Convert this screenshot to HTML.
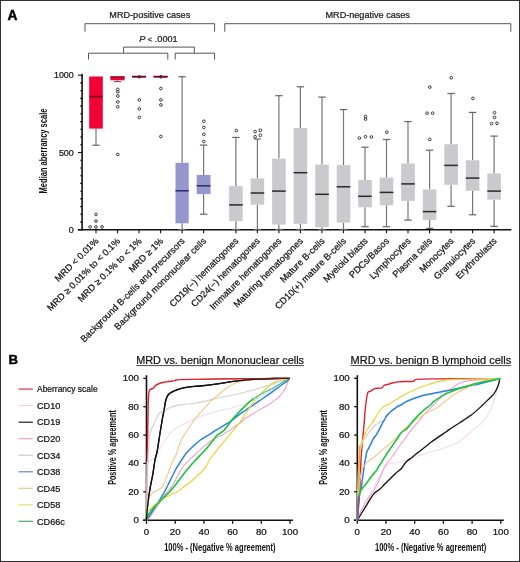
<!DOCTYPE html><html><head><meta charset="utf-8"><style>
html,body{margin:0;padding:0;background:#fff;}
svg{display:block;will-change:transform;} text{text-decoration-skip-ink:none;}
text{font-family:"Liberation Sans", sans-serif;stroke:#111;stroke-width:0.22px;}
</style></head><body>
<svg width="520" height="562" viewBox="0 0 520 562">
<rect x="0" y="0" width="520" height="562" fill="#fff"/>
<text x="7.6" y="19.7" font-size="13.8" font-weight="bold" fill="#000" style="stroke:#000;stroke-width:0.45px">A</text>
<text x="8.5" y="364.4" font-size="13.2" font-weight="bold" fill="#000" style="stroke:#000;stroke-width:0.45px">B</text>
<path d="M85,31.7 V23.7 H214.6 V31.7" stroke="#555" stroke-width="1" fill="none"/>
<path d="M224.8,31.7 V23.7 H510.8 V31.7" stroke="#555" stroke-width="1" fill="none"/>
<path d="M88.5,59.5 V53.2 H167.8 V59.5" stroke="#555" stroke-width="1" fill="none"/>
<path d="M175.2,59.5 V53.2 H214.6 V59.5" stroke="#555" stroke-width="1" fill="none"/>
<path d="M123.6,53.2 V47.1 H194.3 V53.2" stroke="#555" stroke-width="1" fill="none"/>
<text x="149.8" y="18.1" font-size="9.1" text-anchor="middle" fill="#222">MRD-positive cases</text>
<text x="367.7" y="18.1" font-size="9.1" text-anchor="middle" fill="#222">MRD-negative cases</text>
<text x="139.2" y="42.1" font-size="9.15" fill="#222"><tspan font-style="italic">P</tspan> <tspan font-size="7.6">&lt;</tspan> .0001</text>
<line x1="82.1" y1="73.8" x2="82.1" y2="230.6" stroke="#111" stroke-width="1.6"/>
<line x1="77.8" y1="229.8" x2="511.3" y2="229.8" stroke="#111" stroke-width="1.6"/>
<line x1="78" y1="229.8" x2="82" y2="229.8" stroke="#111" stroke-width="1.1"/>
<line x1="80.2" y1="222.1" x2="82" y2="222.1" stroke="#111" stroke-width="1.1"/>
<line x1="80.2" y1="214.3" x2="82" y2="214.3" stroke="#111" stroke-width="1.1"/>
<line x1="80.2" y1="206.6" x2="82" y2="206.6" stroke="#111" stroke-width="1.1"/>
<line x1="80.2" y1="198.9" x2="82" y2="198.9" stroke="#111" stroke-width="1.1"/>
<line x1="80.2" y1="191.2" x2="82" y2="191.2" stroke="#111" stroke-width="1.1"/>
<line x1="80.2" y1="183.4" x2="82" y2="183.4" stroke="#111" stroke-width="1.1"/>
<line x1="80.2" y1="175.7" x2="82" y2="175.7" stroke="#111" stroke-width="1.1"/>
<line x1="80.2" y1="168.0" x2="82" y2="168.0" stroke="#111" stroke-width="1.1"/>
<line x1="80.2" y1="160.2" x2="82" y2="160.2" stroke="#111" stroke-width="1.1"/>
<line x1="78" y1="152.5" x2="82" y2="152.5" stroke="#111" stroke-width="1.1"/>
<line x1="80.2" y1="144.8" x2="82" y2="144.8" stroke="#111" stroke-width="1.1"/>
<line x1="80.2" y1="137.0" x2="82" y2="137.0" stroke="#111" stroke-width="1.1"/>
<line x1="80.2" y1="129.3" x2="82" y2="129.3" stroke="#111" stroke-width="1.1"/>
<line x1="80.2" y1="121.6" x2="82" y2="121.6" stroke="#111" stroke-width="1.1"/>
<line x1="80.2" y1="113.8" x2="82" y2="113.8" stroke="#111" stroke-width="1.1"/>
<line x1="80.2" y1="106.1" x2="82" y2="106.1" stroke="#111" stroke-width="1.1"/>
<line x1="80.2" y1="98.4" x2="82" y2="98.4" stroke="#111" stroke-width="1.1"/>
<line x1="80.2" y1="90.7" x2="82" y2="90.7" stroke="#111" stroke-width="1.1"/>
<line x1="80.2" y1="82.9" x2="82" y2="82.9" stroke="#111" stroke-width="1.1"/>
<line x1="78" y1="75.2" x2="82" y2="75.2" stroke="#111" stroke-width="1.1"/>
<text transform="translate(73.70,232.90)" font-size="8.9" text-anchor="end" fill="#111" >0</text>
<text transform="translate(73.70,155.60)" font-size="8.9" text-anchor="end" fill="#111" >500</text>
<text transform="translate(73.70,78.30)" font-size="8.9" text-anchor="end" fill="#111" >1000</text>
<line x1="96.0" y1="229.8" x2="96.0" y2="233.2" stroke="#111" stroke-width="1.1"/>
<line x1="117.5" y1="229.8" x2="117.5" y2="233.2" stroke="#111" stroke-width="1.1"/>
<line x1="139.0" y1="229.8" x2="139.0" y2="233.2" stroke="#111" stroke-width="1.1"/>
<line x1="160.6" y1="229.8" x2="160.6" y2="233.2" stroke="#111" stroke-width="1.1"/>
<line x1="182.1" y1="229.8" x2="182.1" y2="233.2" stroke="#111" stroke-width="1.1"/>
<line x1="203.6" y1="229.8" x2="203.6" y2="233.2" stroke="#111" stroke-width="1.1"/>
<line x1="235.9" y1="229.8" x2="235.9" y2="233.2" stroke="#111" stroke-width="1.1"/>
<line x1="257.4" y1="229.8" x2="257.4" y2="233.2" stroke="#111" stroke-width="1.1"/>
<line x1="278.9" y1="229.8" x2="278.9" y2="233.2" stroke="#111" stroke-width="1.1"/>
<line x1="300.4" y1="229.8" x2="300.4" y2="233.2" stroke="#111" stroke-width="1.1"/>
<line x1="322.0" y1="229.8" x2="322.0" y2="233.2" stroke="#111" stroke-width="1.1"/>
<line x1="343.5" y1="229.8" x2="343.5" y2="233.2" stroke="#111" stroke-width="1.1"/>
<line x1="365.0" y1="229.8" x2="365.0" y2="233.2" stroke="#111" stroke-width="1.1"/>
<line x1="386.5" y1="229.8" x2="386.5" y2="233.2" stroke="#111" stroke-width="1.1"/>
<line x1="408.0" y1="229.8" x2="408.0" y2="233.2" stroke="#111" stroke-width="1.1"/>
<line x1="429.6" y1="229.8" x2="429.6" y2="233.2" stroke="#111" stroke-width="1.1"/>
<line x1="451.1" y1="229.8" x2="451.1" y2="233.2" stroke="#111" stroke-width="1.1"/>
<line x1="472.6" y1="229.8" x2="472.6" y2="233.2" stroke="#111" stroke-width="1.1"/>
<line x1="494.1" y1="229.8" x2="494.1" y2="233.2" stroke="#111" stroke-width="1.1"/>
<text transform="translate(47.20,151.00) rotate(-90) scale(0.724,1)" font-size="10.4" text-anchor="middle" font-weight="bold" fill="#111" style="stroke-width:0">Median aberrancy scale</text>
<line x1="96.0" y1="128.6" x2="96.0" y2="145.2" stroke="#777" stroke-width="1.2"/><line x1="92.3" y1="145.2" x2="99.7" y2="145.2" stroke="#666" stroke-width="1.2"/><rect x="89.2" y="76.5" width="13.6" height="52.1" fill="#f30034"/><line x1="89.2" y1="96.5" x2="102.8" y2="96.5" stroke="#6a0018" stroke-width="1.5"/>
<line x1="117.5" y1="80.3" x2="117.5" y2="81.6" stroke="#777" stroke-width="1.2"/><line x1="113.8" y1="81.6" x2="121.2" y2="81.6" stroke="#666" stroke-width="1.2"/><rect x="110.4" y="76.4" width="14.2" height="3.9" fill="#f30034"/><line x1="110.4" y1="77.0" x2="124.6" y2="77.0" stroke="#6a0018" stroke-width="1.1"/>
<rect x="132.0" y="75.8" width="14.0" height="1.7" fill="#f30034"/><line x1="132.0" y1="76.7" x2="146.0" y2="76.7" stroke="#6a0018" stroke-width="1.5"/>
<rect x="153.6" y="75.8" width="14.0" height="1.7" fill="#f30034"/><line x1="153.6" y1="76.7" x2="167.6" y2="76.7" stroke="#6a0018" stroke-width="1.5"/>
<line x1="182.1" y1="76.7" x2="182.1" y2="162.8" stroke="#777" stroke-width="1.2"/><line x1="178.4" y1="76.7" x2="185.8" y2="76.7" stroke="#666" stroke-width="1.2"/><line x1="182.1" y1="223.3" x2="182.1" y2="229.6" stroke="#777" stroke-width="1.2"/><line x1="178.4" y1="229.6" x2="185.8" y2="229.6" stroke="#666" stroke-width="1.2"/><rect x="175.5" y="162.8" width="13.2" height="60.5" fill="#9696cf"/><line x1="175.5" y1="190.8" x2="188.7" y2="190.8" stroke="#2a2a6e" stroke-width="1.5"/>
<line x1="203.6" y1="145.1" x2="203.6" y2="174.9" stroke="#777" stroke-width="1.2"/><line x1="199.9" y1="145.1" x2="207.3" y2="145.1" stroke="#666" stroke-width="1.2"/><line x1="203.6" y1="194.1" x2="203.6" y2="214.2" stroke="#777" stroke-width="1.2"/><line x1="199.9" y1="214.2" x2="207.3" y2="214.2" stroke="#666" stroke-width="1.2"/><rect x="196.7" y="174.9" width="13.8" height="19.2" fill="#9696cf"/><line x1="196.7" y1="185.8" x2="210.5" y2="185.8" stroke="#2a2a6e" stroke-width="1.5"/>
<line x1="235.9" y1="137.4" x2="235.9" y2="186.1" stroke="#777" stroke-width="1.2"/><line x1="232.2" y1="137.4" x2="239.6" y2="137.4" stroke="#666" stroke-width="1.2"/><line x1="235.9" y1="221.2" x2="235.9" y2="229.5" stroke="#777" stroke-width="1.2"/><line x1="232.2" y1="229.5" x2="239.6" y2="229.5" stroke="#666" stroke-width="1.2"/><rect x="229.1" y="186.1" width="13.6" height="35.1" fill="#cacace"/><line x1="229.1" y1="204.9" x2="242.7" y2="204.9" stroke="#2a2a2a" stroke-width="1.5"/>
<line x1="257.4" y1="139.1" x2="257.4" y2="178.5" stroke="#777" stroke-width="1.2"/><line x1="253.7" y1="139.1" x2="261.1" y2="139.1" stroke="#666" stroke-width="1.2"/><line x1="257.4" y1="204.6" x2="257.4" y2="229.5" stroke="#777" stroke-width="1.2"/><line x1="253.7" y1="229.5" x2="261.1" y2="229.5" stroke="#666" stroke-width="1.2"/><rect x="250.6" y="178.5" width="13.6" height="26.1" fill="#cacace"/><line x1="250.6" y1="193.0" x2="264.2" y2="193.0" stroke="#2a2a2a" stroke-width="1.5"/>
<line x1="278.9" y1="95.7" x2="278.9" y2="158.6" stroke="#777" stroke-width="1.2"/><line x1="275.2" y1="95.7" x2="282.6" y2="95.7" stroke="#666" stroke-width="1.2"/><line x1="278.9" y1="224.6" x2="278.9" y2="229.5" stroke="#777" stroke-width="1.2"/><line x1="275.2" y1="229.5" x2="282.6" y2="229.5" stroke="#666" stroke-width="1.2"/><rect x="272.1" y="158.6" width="13.6" height="66.0" fill="#cacace"/><line x1="272.1" y1="191.1" x2="285.7" y2="191.1" stroke="#2a2a2a" stroke-width="1.5"/>
<line x1="300.4" y1="86.8" x2="300.4" y2="128.0" stroke="#777" stroke-width="1.2"/><line x1="296.7" y1="86.8" x2="304.1" y2="86.8" stroke="#666" stroke-width="1.2"/><line x1="300.4" y1="223.8" x2="300.4" y2="229.5" stroke="#777" stroke-width="1.2"/><line x1="296.7" y1="229.5" x2="304.1" y2="229.5" stroke="#666" stroke-width="1.2"/><rect x="293.6" y="128.0" width="13.6" height="95.8" fill="#cacace"/><line x1="293.6" y1="172.7" x2="307.2" y2="172.7" stroke="#2a2a2a" stroke-width="1.5"/>
<line x1="322.0" y1="97.1" x2="322.0" y2="164.7" stroke="#777" stroke-width="1.2"/><line x1="318.3" y1="97.1" x2="325.7" y2="97.1" stroke="#666" stroke-width="1.2"/><line x1="322.0" y1="227.2" x2="322.0" y2="229.5" stroke="#777" stroke-width="1.2"/><line x1="318.3" y1="229.5" x2="325.7" y2="229.5" stroke="#666" stroke-width="1.2"/><rect x="315.2" y="164.7" width="13.6" height="62.5" fill="#cacace"/><line x1="315.2" y1="194.3" x2="328.8" y2="194.3" stroke="#2a2a2a" stroke-width="1.5"/>
<line x1="343.5" y1="109.6" x2="343.5" y2="165.1" stroke="#777" stroke-width="1.2"/><line x1="339.8" y1="109.6" x2="347.2" y2="109.6" stroke="#666" stroke-width="1.2"/><line x1="343.5" y1="222.6" x2="343.5" y2="229.5" stroke="#777" stroke-width="1.2"/><line x1="339.8" y1="229.5" x2="347.2" y2="229.5" stroke="#666" stroke-width="1.2"/><rect x="336.7" y="165.1" width="13.6" height="57.5" fill="#cacace"/><line x1="336.7" y1="186.8" x2="350.3" y2="186.8" stroke="#2a2a2a" stroke-width="1.5"/>
<line x1="365.0" y1="147.2" x2="365.0" y2="180.0" stroke="#777" stroke-width="1.2"/><line x1="361.3" y1="147.2" x2="368.7" y2="147.2" stroke="#666" stroke-width="1.2"/><line x1="365.0" y1="207.3" x2="365.0" y2="226.7" stroke="#777" stroke-width="1.2"/><line x1="361.3" y1="226.7" x2="368.7" y2="226.7" stroke="#666" stroke-width="1.2"/><rect x="358.2" y="180.0" width="13.6" height="27.3" fill="#cacace"/><line x1="358.2" y1="196.3" x2="371.8" y2="196.3" stroke="#2a2a2a" stroke-width="1.5"/>
<line x1="386.5" y1="139.5" x2="386.5" y2="177.6" stroke="#777" stroke-width="1.2"/><line x1="382.8" y1="139.5" x2="390.2" y2="139.5" stroke="#666" stroke-width="1.2"/><line x1="386.5" y1="205.3" x2="386.5" y2="226.7" stroke="#777" stroke-width="1.2"/><line x1="382.8" y1="226.7" x2="390.2" y2="226.7" stroke="#666" stroke-width="1.2"/><rect x="379.7" y="177.6" width="13.6" height="27.7" fill="#cacace"/><line x1="379.7" y1="192.4" x2="393.3" y2="192.4" stroke="#2a2a2a" stroke-width="1.5"/>
<line x1="408.0" y1="121.6" x2="408.0" y2="163.5" stroke="#777" stroke-width="1.2"/><line x1="404.3" y1="121.6" x2="411.7" y2="121.6" stroke="#666" stroke-width="1.2"/><line x1="408.0" y1="200.9" x2="408.0" y2="220.1" stroke="#777" stroke-width="1.2"/><line x1="404.3" y1="220.1" x2="411.7" y2="220.1" stroke="#666" stroke-width="1.2"/><rect x="401.2" y="163.5" width="13.6" height="37.4" fill="#cacace"/><line x1="401.2" y1="183.9" x2="414.8" y2="183.9" stroke="#2a2a2a" stroke-width="1.5"/>
<line x1="429.6" y1="150.2" x2="429.6" y2="189.5" stroke="#777" stroke-width="1.2"/><line x1="425.9" y1="150.2" x2="433.3" y2="150.2" stroke="#666" stroke-width="1.2"/><line x1="429.6" y1="220.1" x2="429.6" y2="228.4" stroke="#777" stroke-width="1.2"/><line x1="425.9" y1="228.4" x2="433.3" y2="228.4" stroke="#666" stroke-width="1.2"/><rect x="422.8" y="189.5" width="13.6" height="30.6" fill="#cacace"/><line x1="422.8" y1="211.6" x2="436.4" y2="211.6" stroke="#2a2a2a" stroke-width="1.5"/>
<line x1="451.1" y1="93.5" x2="451.1" y2="144.2" stroke="#777" stroke-width="1.2"/><line x1="447.4" y1="93.5" x2="454.8" y2="93.5" stroke="#666" stroke-width="1.2"/><line x1="451.1" y1="184.8" x2="451.1" y2="206.3" stroke="#777" stroke-width="1.2"/><line x1="447.4" y1="206.3" x2="454.8" y2="206.3" stroke="#666" stroke-width="1.2"/><rect x="444.3" y="144.2" width="13.6" height="40.6" fill="#cacace"/><line x1="444.3" y1="165.4" x2="457.9" y2="165.4" stroke="#2a2a2a" stroke-width="1.5"/>
<line x1="472.6" y1="112.4" x2="472.6" y2="160.3" stroke="#777" stroke-width="1.2"/><line x1="468.9" y1="112.4" x2="476.3" y2="112.4" stroke="#666" stroke-width="1.2"/><line x1="472.6" y1="190.8" x2="472.6" y2="214.8" stroke="#777" stroke-width="1.2"/><line x1="468.9" y1="214.8" x2="476.3" y2="214.8" stroke="#666" stroke-width="1.2"/><rect x="465.8" y="160.3" width="13.6" height="30.5" fill="#cacace"/><line x1="465.8" y1="178.1" x2="479.4" y2="178.1" stroke="#2a2a2a" stroke-width="1.5"/>
<line x1="494.1" y1="136.1" x2="494.1" y2="173.5" stroke="#777" stroke-width="1.2"/><line x1="490.4" y1="136.1" x2="497.8" y2="136.1" stroke="#666" stroke-width="1.2"/><line x1="494.1" y1="199.6" x2="494.1" y2="226.3" stroke="#777" stroke-width="1.2"/><line x1="490.4" y1="226.3" x2="497.8" y2="226.3" stroke="#666" stroke-width="1.2"/><rect x="487.3" y="173.5" width="13.6" height="26.1" fill="#cacace"/><line x1="487.3" y1="191.1" x2="500.9" y2="191.1" stroke="#2a2a2a" stroke-width="1.5"/>
<circle cx="96.0" cy="226.9" r="1.35" fill="none" stroke="#333" stroke-width="0.95"/>
<circle cx="90.1" cy="226.9" r="1.35" fill="none" stroke="#333" stroke-width="0.95"/>
<circle cx="102.0" cy="226.9" r="1.35" fill="none" stroke="#333" stroke-width="0.95"/>
<circle cx="96.0" cy="221.1" r="1.35" fill="none" stroke="#333" stroke-width="0.95"/>
<circle cx="96.0" cy="214.4" r="1.35" fill="none" stroke="#333" stroke-width="0.95"/>
<circle cx="117.8" cy="89.4" r="1.35" fill="none" stroke="#333" stroke-width="0.95"/>
<circle cx="117.8" cy="91.8" r="1.35" fill="none" stroke="#333" stroke-width="0.95"/>
<circle cx="117.8" cy="96.0" r="1.35" fill="none" stroke="#333" stroke-width="0.95"/>
<circle cx="117.8" cy="101.9" r="1.35" fill="none" stroke="#333" stroke-width="0.95"/>
<circle cx="117.8" cy="106.7" r="1.35" fill="none" stroke="#333" stroke-width="0.95"/>
<circle cx="117.8" cy="154.5" r="1.35" fill="none" stroke="#333" stroke-width="0.95"/>
<circle cx="139.3" cy="76.8" r="1.35" fill="none" stroke="#333" stroke-width="0.95"/>
<circle cx="139.3" cy="99.9" r="1.35" fill="none" stroke="#333" stroke-width="0.95"/>
<circle cx="139.3" cy="108.9" r="1.35" fill="none" stroke="#333" stroke-width="0.95"/>
<circle cx="139.3" cy="117.4" r="1.35" fill="none" stroke="#333" stroke-width="0.95"/>
<circle cx="160.9" cy="76.8" r="1.35" fill="none" stroke="#333" stroke-width="0.95"/>
<circle cx="160.9" cy="88.5" r="1.35" fill="none" stroke="#333" stroke-width="0.95"/>
<circle cx="160.9" cy="99.9" r="1.35" fill="none" stroke="#333" stroke-width="0.95"/>
<circle cx="160.9" cy="104.9" r="1.35" fill="none" stroke="#333" stroke-width="0.95"/>
<circle cx="160.9" cy="136.5" r="1.35" fill="none" stroke="#333" stroke-width="0.95"/>
<circle cx="203.8" cy="121.3" r="1.35" fill="none" stroke="#333" stroke-width="0.95"/>
<circle cx="203.8" cy="127.4" r="1.35" fill="none" stroke="#333" stroke-width="0.95"/>
<circle cx="203.8" cy="134.4" r="1.35" fill="none" stroke="#333" stroke-width="0.95"/>
<circle cx="203.8" cy="141.5" r="1.35" fill="none" stroke="#333" stroke-width="0.95"/>
<circle cx="236.4" cy="130.6" r="1.35" fill="none" stroke="#333" stroke-width="0.95"/>
<circle cx="255.1" cy="131.6" r="1.35" fill="none" stroke="#333" stroke-width="0.95"/>
<circle cx="260.3" cy="130.3" r="1.35" fill="none" stroke="#333" stroke-width="0.95"/>
<circle cx="255.1" cy="136.7" r="1.35" fill="none" stroke="#333" stroke-width="0.95"/>
<circle cx="260.3" cy="135.3" r="1.35" fill="none" stroke="#333" stroke-width="0.95"/>
<circle cx="365.5" cy="116.5" r="1.35" fill="none" stroke="#333" stroke-width="0.95"/>
<circle cx="365.5" cy="119.1" r="1.35" fill="none" stroke="#333" stroke-width="0.95"/>
<circle cx="359.4" cy="138.1" r="1.35" fill="none" stroke="#333" stroke-width="0.95"/>
<circle cx="365.5" cy="136.7" r="1.35" fill="none" stroke="#333" stroke-width="0.95"/>
<circle cx="371.4" cy="137.0" r="1.35" fill="none" stroke="#333" stroke-width="0.95"/>
<circle cx="386.8" cy="132.2" r="1.35" fill="none" stroke="#333" stroke-width="0.95"/>
<circle cx="429.8" cy="87.1" r="1.35" fill="none" stroke="#333" stroke-width="0.95"/>
<circle cx="427.1" cy="113.2" r="1.35" fill="none" stroke="#333" stroke-width="0.95"/>
<circle cx="432.6" cy="113.2" r="1.35" fill="none" stroke="#333" stroke-width="0.95"/>
<circle cx="429.8" cy="139.5" r="1.35" fill="none" stroke="#333" stroke-width="0.95"/>
<circle cx="451.2" cy="77.8" r="1.35" fill="none" stroke="#333" stroke-width="0.95"/>
<circle cx="472.9" cy="98.4" r="1.35" fill="none" stroke="#333" stroke-width="0.95"/>
<circle cx="494.5" cy="112.7" r="1.35" fill="none" stroke="#333" stroke-width="0.95"/>
<circle cx="494.5" cy="117.4" r="1.35" fill="none" stroke="#333" stroke-width="0.95"/>
<circle cx="491.6" cy="123.6" r="1.35" fill="none" stroke="#333" stroke-width="0.95"/>
<circle cx="497.0" cy="123.3" r="1.35" fill="none" stroke="#333" stroke-width="0.95"/>
<text transform="translate(99.2,241.6) rotate(-45)" font-size="9.2" text-anchor="end" fill="#111">MRD &lt; 0.01%</text>
<text transform="translate(120.7,241.6) rotate(-45)" font-size="9.2" text-anchor="end" fill="#111">MRD ≥ 0.01% to &lt; 0.1%</text>
<text transform="translate(142.2,241.6) rotate(-45)" font-size="9.2" text-anchor="end" fill="#111">MRD ≥ 0.1% to &lt; 1%</text>
<text transform="translate(163.8,241.6) rotate(-45)" font-size="9.2" text-anchor="end" fill="#111">MRD ≥ 1%</text>
<text transform="translate(185.3,241.6) rotate(-45)" font-size="9.2" text-anchor="end" fill="#111">Background B-cells and precursors</text>
<text transform="translate(206.8,241.6) rotate(-45)" font-size="9.2" text-anchor="end" fill="#111">Background mononuclear cells</text>
<text transform="translate(239.1,241.6) rotate(-45)" font-size="9.2" text-anchor="end" fill="#111">CD19(−) hematogones</text>
<text transform="translate(260.6,241.6) rotate(-45)" font-size="9.2" text-anchor="end" fill="#111">CD24(−) hematogones</text>
<text transform="translate(282.1,241.6) rotate(-45)" font-size="9.2" text-anchor="end" fill="#111">Immature hematogones</text>
<text transform="translate(303.6,241.6) rotate(-45)" font-size="9.2" text-anchor="end" fill="#111">Maturing hematogones</text>
<text transform="translate(325.2,241.6) rotate(-45)" font-size="9.2" text-anchor="end" fill="#111">Mature B-cells</text>
<text transform="translate(346.7,241.6) rotate(-45)" font-size="9.2" text-anchor="end" fill="#111">CD10(+) mature B-cells</text>
<text transform="translate(368.2,241.6) rotate(-45)" font-size="9.2" text-anchor="end" fill="#111">Myeloid blasts</text>
<text transform="translate(389.7,241.6) rotate(-45)" font-size="9.2" text-anchor="end" fill="#111">PDCs/Basos</text>
<text transform="translate(411.2,241.6) rotate(-45)" font-size="9.2" text-anchor="end" fill="#111">Lymphocytes</text>
<text transform="translate(432.8,241.6) rotate(-45)" font-size="9.2" text-anchor="end" fill="#111">Plasma cells</text>
<text transform="translate(454.3,241.6) rotate(-45)" font-size="9.2" text-anchor="end" fill="#111">Monocytes</text>
<text transform="translate(475.8,241.6) rotate(-45)" font-size="9.2" text-anchor="end" fill="#111">Granulocytes</text>
<text transform="translate(497.3,241.6) rotate(-45)" font-size="9.2" text-anchor="end" fill="#111">Erythroblasts</text>
<line x1="18.6" y1="389.1" x2="32.9" y2="389.1" stroke="#e8283a" stroke-width="1.15"/>
<text transform="translate(37.00,392.40)" font-size="9.1" text-anchor="start" fill="#111" textLength="60.60" lengthAdjust="spacingAndGlyphs" >Aberrancy scale</text>
<line x1="18.6" y1="405.6" x2="32.9" y2="405.6" stroke="#f3d3e3" stroke-width="1.15"/>
<text transform="translate(37.00,408.93)" font-size="9.1" text-anchor="start" fill="#111" >CD10</text>
<line x1="18.6" y1="422.2" x2="32.9" y2="422.2" stroke="#111" stroke-width="1.15"/>
<text transform="translate(37.00,425.46)" font-size="9.1" text-anchor="start" fill="#111" >CD19</text>
<line x1="18.6" y1="438.7" x2="32.9" y2="438.7" stroke="#eb9cc8" stroke-width="1.15"/>
<text transform="translate(37.00,441.99)" font-size="9.1" text-anchor="start" fill="#111" >CD20</text>
<line x1="18.6" y1="455.2" x2="32.9" y2="455.2" stroke="#c6c6c6" stroke-width="1.15"/>
<text transform="translate(37.00,458.52)" font-size="9.1" text-anchor="start" fill="#111" >CD34</text>
<line x1="18.6" y1="471.8" x2="32.9" y2="471.8" stroke="#5584cc" stroke-width="1.15"/>
<text transform="translate(37.00,475.05)" font-size="9.1" text-anchor="start" fill="#111" >CD38</text>
<line x1="18.6" y1="488.3" x2="32.9" y2="488.3" stroke="#e6c87a" stroke-width="1.15"/>
<text transform="translate(37.00,491.58)" font-size="9.1" text-anchor="start" fill="#111" >CD45</text>
<line x1="18.6" y1="504.8" x2="32.9" y2="504.8" stroke="#e0df66" stroke-width="1.15"/>
<text transform="translate(37.00,508.11)" font-size="9.1" text-anchor="start" fill="#111" >CD58</text>
<line x1="18.6" y1="521.3" x2="32.9" y2="521.3" stroke="#33a862" stroke-width="1.15"/>
<text transform="translate(37.00,524.64)" font-size="9.1" text-anchor="start" fill="#111" >CD66c</text>
<line x1="146.5" y1="375.2" x2="146.5" y2="521.0" stroke="#111" stroke-width="1.6"/><line x1="143.1" y1="520.2" x2="293.0" y2="520.2" stroke="#111" stroke-width="1.6"/><line x1="143.3" y1="520.2" x2="146.5" y2="520.2" stroke="#111" stroke-width="1.3"/><line x1="146.5" y1="520.2" x2="146.5" y2="523.8" stroke="#111" stroke-width="1.3"/><text transform="translate(138.90,523.10) scale(1.110,1)" font-size="8.7" text-anchor="end" fill="#111" >0</text><text transform="translate(146.50,534.90) scale(1.110,1)" font-size="8.7" text-anchor="middle" fill="#111" >0</text><line x1="143.3" y1="491.8" x2="146.5" y2="491.8" stroke="#111" stroke-width="1.3"/><line x1="175.2" y1="520.2" x2="175.2" y2="523.8" stroke="#111" stroke-width="1.3"/><text transform="translate(138.90,494.72) scale(1.110,1)" font-size="8.7" text-anchor="end" fill="#111" >20</text><text transform="translate(175.20,534.90) scale(1.110,1)" font-size="8.7" text-anchor="middle" fill="#111" >20</text><line x1="143.3" y1="463.4" x2="146.5" y2="463.4" stroke="#111" stroke-width="1.3"/><line x1="203.9" y1="520.2" x2="203.9" y2="523.8" stroke="#111" stroke-width="1.3"/><text transform="translate(138.90,466.34) scale(1.110,1)" font-size="8.7" text-anchor="end" fill="#111" >40</text><text transform="translate(203.90,534.90) scale(1.110,1)" font-size="8.7" text-anchor="middle" fill="#111" >40</text><line x1="143.3" y1="435.1" x2="146.5" y2="435.1" stroke="#111" stroke-width="1.3"/><line x1="232.6" y1="520.2" x2="232.6" y2="523.8" stroke="#111" stroke-width="1.3"/><text transform="translate(138.90,437.96) scale(1.110,1)" font-size="8.7" text-anchor="end" fill="#111" >60</text><text transform="translate(232.60,534.90) scale(1.110,1)" font-size="8.7" text-anchor="middle" fill="#111" >60</text><line x1="143.3" y1="406.7" x2="146.5" y2="406.7" stroke="#111" stroke-width="1.3"/><line x1="261.3" y1="520.2" x2="261.3" y2="523.8" stroke="#111" stroke-width="1.3"/><text transform="translate(138.90,409.58) scale(1.110,1)" font-size="8.7" text-anchor="end" fill="#111" >80</text><text transform="translate(261.30,534.90) scale(1.110,1)" font-size="8.7" text-anchor="middle" fill="#111" >80</text><line x1="143.3" y1="378.3" x2="146.5" y2="378.3" stroke="#111" stroke-width="1.3"/><line x1="290.0" y1="520.2" x2="290.0" y2="523.8" stroke="#111" stroke-width="1.3"/><text transform="translate(138.90,381.20) scale(1.110,1)" font-size="8.7" text-anchor="end" fill="#111" >100</text><text transform="translate(290.00,534.90) scale(1.110,1)" font-size="8.7" text-anchor="middle" fill="#111" >100</text><text transform="translate(219.80,551.00) scale(0.754,1)" font-size="10" text-anchor="middle" font-weight="bold" fill="#111" style="stroke-width:0">100% - (Negative % agreement)</text><text transform="translate(116.10,447.50) rotate(-90) scale(0.724,1)" font-size="10" text-anchor="middle" font-weight="bold" fill="#111" style="stroke-width:0">Positive % agreement</text><text transform="translate(136.20,364.40)" font-size="10.9" text-anchor="start" fill="#111" textLength="167.80" lengthAdjust="spacingAndGlyphs" >MRD vs. benign Mononuclear cells</text><line x1="136.2" y1="365.6" x2="304.0" y2="365.6" stroke="#333" stroke-width="0.9"/>
<line x1="357.3" y1="375.2" x2="357.3" y2="521.0" stroke="#111" stroke-width="1.6"/><line x1="353.9" y1="520.2" x2="503.8" y2="520.2" stroke="#111" stroke-width="1.6"/><line x1="354.1" y1="520.2" x2="357.3" y2="520.2" stroke="#111" stroke-width="1.3"/><line x1="357.3" y1="520.2" x2="357.3" y2="523.8" stroke="#111" stroke-width="1.3"/><text transform="translate(349.70,523.10) scale(1.110,1)" font-size="8.7" text-anchor="end" fill="#111" >0</text><text transform="translate(357.30,534.90) scale(1.110,1)" font-size="8.7" text-anchor="middle" fill="#111" >0</text><line x1="354.1" y1="491.8" x2="357.3" y2="491.8" stroke="#111" stroke-width="1.3"/><line x1="386.0" y1="520.2" x2="386.0" y2="523.8" stroke="#111" stroke-width="1.3"/><text transform="translate(349.70,494.72) scale(1.110,1)" font-size="8.7" text-anchor="end" fill="#111" >20</text><text transform="translate(386.00,534.90) scale(1.110,1)" font-size="8.7" text-anchor="middle" fill="#111" >20</text><line x1="354.1" y1="463.4" x2="357.3" y2="463.4" stroke="#111" stroke-width="1.3"/><line x1="414.7" y1="520.2" x2="414.7" y2="523.8" stroke="#111" stroke-width="1.3"/><text transform="translate(349.70,466.34) scale(1.110,1)" font-size="8.7" text-anchor="end" fill="#111" >40</text><text transform="translate(414.70,534.90) scale(1.110,1)" font-size="8.7" text-anchor="middle" fill="#111" >40</text><line x1="354.1" y1="435.1" x2="357.3" y2="435.1" stroke="#111" stroke-width="1.3"/><line x1="443.4" y1="520.2" x2="443.4" y2="523.8" stroke="#111" stroke-width="1.3"/><text transform="translate(349.70,437.96) scale(1.110,1)" font-size="8.7" text-anchor="end" fill="#111" >60</text><text transform="translate(443.40,534.90) scale(1.110,1)" font-size="8.7" text-anchor="middle" fill="#111" >60</text><line x1="354.1" y1="406.7" x2="357.3" y2="406.7" stroke="#111" stroke-width="1.3"/><line x1="472.1" y1="520.2" x2="472.1" y2="523.8" stroke="#111" stroke-width="1.3"/><text transform="translate(349.70,409.58) scale(1.110,1)" font-size="8.7" text-anchor="end" fill="#111" >80</text><text transform="translate(472.10,534.90) scale(1.110,1)" font-size="8.7" text-anchor="middle" fill="#111" >80</text><line x1="354.1" y1="378.3" x2="357.3" y2="378.3" stroke="#111" stroke-width="1.3"/><line x1="500.8" y1="520.2" x2="500.8" y2="523.8" stroke="#111" stroke-width="1.3"/><text transform="translate(349.70,381.20) scale(1.110,1)" font-size="8.7" text-anchor="end" fill="#111" >100</text><text transform="translate(500.80,534.90) scale(1.110,1)" font-size="8.7" text-anchor="middle" fill="#111" >100</text><text transform="translate(430.60,551.00) scale(0.754,1)" font-size="10" text-anchor="middle" font-weight="bold" fill="#111" style="stroke-width:0">100% - (Negative % agreement)</text><text transform="translate(326.90,447.50) rotate(-90) scale(0.724,1)" font-size="10" text-anchor="middle" font-weight="bold" fill="#111" style="stroke-width:0">Positive % agreement</text><text transform="translate(350.60,364.40)" font-size="10.9" text-anchor="start" fill="#111" textLength="160.60" lengthAdjust="spacingAndGlyphs" >MRD vs. benign B lymphoid cells</text><line x1="350.6" y1="365.6" x2="511.2" y2="365.6" stroke="#333" stroke-width="0.9"/>
<path d="M147.20,461.00 C147.27,457.50 147.43,449.33 147.60,440.00 C147.77,430.67 148.00,412.83 148.20,405.00 C148.40,397.17 148.50,395.53 148.80,393.00 C149.10,390.47 149.22,390.62 150.00,389.80 C150.78,388.98 152.73,388.68 153.50,388.10 C154.27,387.52 153.83,386.98 154.60,386.30 C155.37,385.62 156.57,384.67 158.10,384.00 C159.63,383.33 160.92,382.87 163.80,382.30 C166.68,381.73 172.70,381.05 175.40,380.60 C178.10,380.15 171.90,379.88 180.00,379.60 C188.10,379.32 205.77,379.10 224.00,378.90 C242.23,378.70 278.50,378.48 289.40,378.40" fill="none" stroke="#e0202e" stroke-width="1.4" stroke-linejoin="round" stroke-linecap="round"/>
<path d="M146.90,520.00 C146.92,515.50 146.95,501.33 147.00,493.00 C147.05,484.67 147.10,475.00 147.20,470.00 C147.30,465.00 146.80,464.75 147.60,463.00 C148.40,461.25 150.47,460.73 152.00,459.50 C153.53,458.27 155.37,457.60 156.80,455.60 C158.23,453.60 159.45,449.68 160.60,447.50 C161.75,445.32 162.62,444.22 163.70,442.50 C164.78,440.78 165.50,439.27 167.10,437.20 C168.70,435.13 170.48,432.32 173.30,430.10 C176.12,427.88 179.55,426.15 184.00,423.90 C188.45,421.65 194.38,418.70 200.00,416.60 C205.62,414.50 211.80,412.93 217.70,411.30 C223.60,409.67 229.50,408.57 235.40,406.80 C241.30,405.03 247.20,403.35 253.10,400.70 C259.00,398.05 265.78,394.00 270.80,390.90 C275.82,387.80 280.10,384.18 283.20,382.10 C286.30,380.02 288.37,379.02 289.40,378.40" fill="none" stroke="#f4def0" stroke-width="1.2" stroke-linejoin="round" stroke-linecap="round"/>
<path d="M146.40,520.20 C146.55,518.25 146.87,512.65 147.30,508.50 C147.73,504.35 148.45,499.15 149.00,495.30 C149.55,491.45 149.97,488.90 150.60,485.40 C151.23,481.90 152.07,478.53 152.80,474.30 C153.53,470.07 154.25,463.95 155.00,460.00 C155.75,456.05 156.43,455.27 157.30,450.60 C158.17,445.93 159.33,437.40 160.20,432.00 C161.07,426.60 161.87,421.78 162.50,418.20 C163.13,414.62 163.50,413.28 164.00,410.50 C164.50,407.72 164.98,403.78 165.50,401.50 C166.02,399.22 166.45,398.12 167.10,396.80 C167.75,395.48 168.12,394.63 169.40,393.60 C170.68,392.57 172.62,391.50 174.80,390.60 C176.98,389.70 179.93,388.83 182.50,388.20 C185.07,387.57 187.28,387.17 190.20,386.80 C193.12,386.43 195.42,386.50 200.00,386.00 C204.58,385.50 211.80,384.60 217.70,383.80 C223.60,383.00 229.50,381.93 235.40,381.20 C241.30,380.47 246.62,379.85 253.10,379.40 C259.58,378.95 268.25,378.67 274.30,378.50 C280.35,378.33 286.88,378.42 289.40,378.40" fill="none" stroke="#111" stroke-width="1.3" stroke-linejoin="round" stroke-linecap="round"/>
<path d="M146.50,520.20 C146.82,519.90 146.98,520.17 148.40,518.40 C149.82,516.63 152.43,513.27 155.00,509.60 C157.57,505.93 160.85,500.43 163.80,496.40 C166.75,492.37 170.33,488.97 172.70,485.40 C175.07,481.83 176.12,478.32 178.00,475.00 C179.88,471.68 180.78,469.28 184.00,465.50 C187.22,461.72 193.80,455.58 197.30,452.30 C200.80,449.02 202.23,448.07 205.00,445.80 C207.77,443.53 211.68,440.18 213.90,438.70 C216.12,437.22 216.82,437.57 218.30,436.90 C219.78,436.23 221.32,435.58 222.80,434.70 C224.28,433.82 225.72,432.57 227.20,431.60 C228.68,430.63 230.22,429.95 231.70,428.90 C233.18,427.85 234.62,426.33 236.10,425.30 C237.58,424.27 239.25,423.72 240.60,422.70 C241.95,421.68 241.23,421.25 244.20,419.20 C247.17,417.15 253.97,413.05 258.40,410.40 C262.83,407.75 267.27,405.67 270.80,403.30 C274.33,400.93 277.25,398.55 279.60,396.20 C281.95,393.85 283.42,391.85 284.90,389.20 C286.38,386.55 287.75,382.10 288.50,380.30 C289.25,378.50 289.25,378.72 289.40,378.40" fill="none" stroke="#f0a0d4" stroke-width="1.1" stroke-linejoin="round" stroke-linecap="round"/>
<path d="M146.50,520.20 C146.62,515.17 146.95,500.03 147.20,490.00 C147.45,479.97 147.72,468.05 148.00,460.00 C148.28,451.95 148.53,446.23 148.90,441.70 C149.27,437.17 149.53,435.47 150.20,432.80 C150.87,430.13 151.87,428.07 152.90,425.70 C153.93,423.33 155.35,420.63 156.40,418.60 C157.45,416.57 157.57,415.03 159.20,413.50 C160.83,411.97 163.88,410.57 166.20,409.40 C168.52,408.23 170.80,407.27 173.10,406.50 C175.40,405.73 175.52,405.48 180.00,404.80 C184.48,404.12 193.72,403.53 200.00,402.40 C206.28,401.27 211.80,399.32 217.70,398.00 C223.60,396.68 229.50,395.83 235.40,394.50 C241.30,393.17 247.20,391.63 253.10,390.00 C259.00,388.37 264.75,386.63 270.80,384.70 C276.85,382.77 286.30,379.45 289.40,378.40" fill="none" stroke="#d2d2d2" stroke-width="1.2" stroke-linejoin="round" stroke-linecap="round"/>
<path d="M146.80,520.20 C147.80,518.62 150.88,513.75 152.80,510.70 C154.72,507.65 156.47,504.83 158.30,501.90 C160.13,498.97 161.95,496.40 163.80,493.10 C165.65,489.80 167.55,485.78 169.40,482.10 C171.25,478.42 173.13,474.27 174.90,471.00 C176.67,467.73 178.15,465.42 180.00,462.50 C181.85,459.58 183.88,456.15 186.00,453.50 C188.12,450.85 190.30,448.85 192.70,446.60 C195.10,444.35 198.35,441.57 200.40,440.00 C202.45,438.43 203.50,438.13 205.00,437.20 C206.50,436.27 207.92,435.35 209.40,434.40 C210.88,433.45 212.42,432.43 213.90,431.50 C215.38,430.57 216.82,429.70 218.30,428.80 C219.78,427.90 221.32,427.00 222.80,426.10 C224.28,425.20 225.72,424.32 227.20,423.40 C228.68,422.48 229.75,422.03 231.70,420.60 C233.65,419.17 235.05,417.58 238.90,414.80 C242.75,412.02 250.93,406.53 254.80,403.90 C258.67,401.27 259.53,400.75 262.10,399.00 C264.67,397.25 267.92,395.02 270.20,393.40 C272.48,391.78 273.78,390.78 275.80,389.30 C277.82,387.82 280.27,385.97 282.30,384.50 C284.33,383.03 286.82,381.52 288.00,380.50 C289.18,379.48 289.17,378.75 289.40,378.40" fill="none" stroke="#2a84dc" stroke-width="1.5" stroke-linejoin="round" stroke-linecap="round"/>
<path d="M146.50,520.20 C146.63,517.88 146.80,510.27 147.30,506.30 C147.80,502.33 148.40,498.78 149.50,496.40 C150.60,494.02 151.88,493.47 153.90,492.00 C155.92,490.53 159.57,489.82 161.60,487.60 C163.63,485.38 164.62,482.20 166.10,478.70 C167.58,475.20 169.32,469.72 170.50,466.60 C171.68,463.48 172.28,461.93 173.20,460.00 C174.12,458.07 174.80,458.05 176.00,455.00 C177.20,451.95 179.07,444.97 180.40,441.70 C181.73,438.43 181.70,439.02 184.00,435.40 C186.30,431.78 191.53,423.73 194.20,420.00 C196.87,416.27 197.57,415.78 200.00,413.00 C202.43,410.22 205.85,406.25 208.80,403.30 C211.75,400.35 214.75,397.80 217.70,395.30 C220.65,392.80 223.55,390.35 226.50,388.30 C229.45,386.25 232.15,384.33 235.40,383.00 C238.65,381.67 241.58,380.98 246.00,380.30 C250.42,379.62 254.67,379.22 261.90,378.90 C269.13,378.58 284.82,378.48 289.40,378.40" fill="none" stroke="#f6c98e" stroke-width="1.2" stroke-linejoin="round" stroke-linecap="round"/>
<path d="M146.50,520.20 C146.55,518.98 146.12,514.85 146.80,512.90 C147.48,510.95 148.87,510.15 150.60,508.50 C152.33,506.85 155.00,504.65 157.20,503.00 C159.40,501.35 161.40,500.07 163.80,498.60 C166.20,497.13 169.38,495.30 171.60,494.20 C173.82,493.10 175.03,493.28 177.10,492.00 C179.17,490.72 181.40,488.50 184.00,486.50 C186.60,484.50 189.20,483.08 192.70,480.00 C196.20,476.92 202.22,471.33 205.00,468.00 C207.78,464.67 207.92,462.37 209.40,460.00 C210.88,457.63 212.42,455.73 213.90,453.80 C215.38,451.87 216.82,450.18 218.30,448.40 C219.78,446.62 221.32,444.87 222.80,443.10 C224.28,441.33 225.72,439.58 227.20,437.80 C228.68,436.02 230.22,434.18 231.70,432.40 C233.18,430.62 234.48,429.17 236.10,427.10 C237.72,425.03 238.87,423.67 241.40,420.00 C243.93,416.33 248.47,409.07 251.30,405.10 C254.13,401.13 256.03,398.85 258.40,396.20 C260.77,393.55 262.85,391.55 265.50,389.20 C268.15,386.85 270.32,383.90 274.30,382.10 C278.28,380.30 286.88,379.02 289.40,378.40" fill="none" stroke="#ecd23a" stroke-width="1.2" stroke-linejoin="round" stroke-linecap="round"/>
<path d="M146.50,520.20 C146.55,519.72 145.75,519.25 146.80,517.30 C147.85,515.35 150.88,510.88 152.80,508.50 C154.72,506.12 156.47,504.83 158.30,503.00 C160.13,501.17 161.95,499.33 163.80,497.50 C165.65,495.67 167.37,494.20 169.40,492.00 C171.43,489.80 173.40,487.58 176.00,484.30 C178.60,481.02 181.97,476.10 185.00,472.30 C188.03,468.50 190.87,465.18 194.20,461.50 C197.53,457.82 202.47,452.97 205.00,450.20 C207.53,447.43 207.92,446.67 209.40,444.90 C210.88,443.13 212.70,441.15 213.90,439.60 C215.10,438.05 215.57,436.65 216.60,435.60 C217.63,434.55 218.77,434.27 220.10,433.30 C221.43,432.33 223.42,430.98 224.60,429.80 C225.78,428.62 226.32,427.38 227.20,426.20 C228.08,425.02 229.15,423.73 229.90,422.70 C230.65,421.67 230.22,421.73 231.70,420.00 C233.18,418.27 236.12,415.08 238.80,412.30 C241.48,409.52 245.42,405.53 247.80,403.30 C250.18,401.07 252.22,399.63 253.10,398.90" fill="none" stroke="#1cc43c" stroke-width="1.6" stroke-linejoin="round" stroke-linecap="round"/>
<path d="M253.10,398.90 C254.87,397.87 260.17,394.62 263.70,392.70 C267.23,390.78 271.35,389.02 274.30,387.40 C277.25,385.78 278.88,384.50 281.40,383.00 C283.92,381.50 288.07,379.17 289.40,378.40" fill="none" stroke="#3cc88c" stroke-width="1.3" stroke-linejoin="round" stroke-linecap="round" stroke-dasharray="2.2,1.3"/>
<path d="M357.50,520.20 C357.85,515.70 359.12,500.77 359.60,493.20 C360.08,485.63 360.13,480.95 360.40,474.80 C360.67,468.65 360.90,461.43 361.20,456.30 C361.50,451.17 361.72,449.38 362.20,444.00 C362.68,438.62 363.62,429.58 364.10,424.00 C364.58,418.42 364.70,414.67 365.10,410.50 C365.50,406.33 366.02,402.03 366.50,399.00 C366.98,395.97 367.35,393.58 368.00,392.30 C368.65,391.02 369.37,391.87 370.40,391.30 C371.43,390.73 372.92,389.42 374.20,388.90 C375.48,388.38 376.82,388.37 378.10,388.20 C379.38,388.03 380.95,388.35 381.90,387.90 C382.85,387.45 382.67,386.13 383.80,385.50 C384.93,384.87 387.08,384.55 388.70,384.10 C390.32,383.65 391.90,383.17 393.50,382.80 C395.10,382.43 396.38,382.12 398.30,381.90 C400.22,381.68 402.47,381.62 405.00,381.50 C407.53,381.38 411.58,381.55 413.50,381.20 C415.42,380.85 412.92,379.78 416.50,379.40 C420.08,379.02 421.12,379.03 435.00,378.90 C448.88,378.77 489.00,378.65 499.80,378.60" fill="none" stroke="#e0202e" stroke-width="1.4" stroke-linejoin="round" stroke-linecap="round"/>
<path d="M357.30,520.20 C358.08,518.67 360.25,514.17 362.00,511.00 C363.75,507.83 365.88,505.08 367.80,501.20 C369.72,497.32 371.58,491.72 373.50,487.70 C375.42,483.68 377.53,480.30 379.30,477.10 C381.07,473.90 382.50,470.67 384.10,468.50 C385.70,466.33 387.30,464.98 388.90,464.10 C390.50,463.22 392.10,463.52 393.70,463.20 C395.30,462.88 396.57,462.68 398.50,462.20 C400.43,461.72 403.13,461.02 405.30,460.30 C407.47,459.58 408.53,458.88 411.50,457.90 C414.47,456.92 419.25,455.55 423.10,454.40 C426.95,453.25 430.75,452.18 434.60,451.00 C438.45,449.82 441.97,448.93 446.20,447.30 C450.43,445.67 455.20,444.40 460.00,441.20 C464.80,438.00 471.35,431.17 475.00,428.10 C478.65,425.03 479.47,425.48 481.90,422.80 C484.33,420.12 487.55,415.85 489.60,412.00 C491.65,408.15 492.92,403.55 494.20,399.70 C495.48,395.85 496.37,392.42 497.30,388.90 C498.23,385.38 499.38,380.32 499.80,378.60" fill="none" stroke="#f4def0" stroke-width="1.2" stroke-linejoin="round" stroke-linecap="round"/>
<path d="M357.30,520.20 C357.98,519.08 359.95,515.85 361.40,513.50 C362.85,511.15 364.45,508.63 366.00,506.10 C367.55,503.57 369.28,500.48 370.70,498.30 C372.12,496.12 373.07,494.45 374.50,493.00 C375.93,491.55 377.70,490.97 379.30,489.60 C380.90,488.23 382.33,486.57 384.10,484.80 C385.87,483.03 387.97,480.92 389.90,479.00 C391.83,477.08 393.78,475.05 395.70,473.30 C397.62,471.55 399.72,470.33 401.40,468.50 C403.08,466.67 404.12,464.10 405.80,462.30 C407.48,460.50 409.58,459.23 411.50,457.70 C413.42,456.17 415.37,454.63 417.30,453.10 C419.23,451.57 420.78,450.33 423.10,448.50 C425.42,446.67 428.90,443.83 431.20,442.10 C433.50,440.37 434.40,439.83 436.90,438.10 C439.40,436.37 443.70,433.43 446.20,431.70 C448.70,429.97 449.60,429.23 451.90,427.70 C454.20,426.17 456.78,424.60 460.00,422.50 C463.22,420.40 467.55,417.88 471.20,415.10 C474.85,412.32 478.83,408.62 481.90,405.80 C484.97,402.98 487.55,400.25 489.60,398.20 C491.65,396.15 492.78,395.57 494.20,393.50 C495.62,391.43 497.17,388.28 498.10,385.80 C499.03,383.32 499.52,379.80 499.80,378.60" fill="none" stroke="#111" stroke-width="1.3" stroke-linejoin="round" stroke-linecap="round"/>
<path d="M357.30,520.20 C357.52,519.50 357.73,518.03 358.60,516.00 C359.47,513.97 361.13,510.63 362.50,508.00 C363.87,505.37 365.28,502.62 366.80,500.20 C368.32,497.78 370.15,495.58 371.60,493.50 C373.05,491.42 374.22,489.95 375.50,487.70 C376.78,485.45 378.17,482.62 379.30,480.00 C380.43,477.38 381.35,474.33 382.30,472.00 C383.25,469.67 383.97,467.82 385.00,466.00 C386.03,464.18 386.90,463.20 388.50,461.10 C390.10,459.00 392.68,456.08 394.60,453.40 C396.52,450.72 398.27,447.48 400.00,445.00 C401.73,442.52 403.27,440.80 405.00,438.50 C406.73,436.20 408.22,433.97 410.40,431.20 C412.58,428.43 415.53,424.98 418.10,421.90 C420.67,418.82 423.12,415.63 425.80,412.70 C428.48,409.77 431.25,407.23 434.20,404.30 C437.15,401.37 440.42,397.92 443.50,395.10 C446.58,392.28 449.88,389.45 452.70,387.40 C455.52,385.35 457.32,383.95 460.40,382.80 C463.48,381.65 464.63,381.20 471.20,380.50 C477.77,379.80 495.03,378.92 499.80,378.60" fill="none" stroke="#f0a0d4" stroke-width="1.1" stroke-linejoin="round" stroke-linecap="round"/>
<path d="M357.30,520.20 C357.50,511.83 357.97,481.70 358.50,470.00 C359.03,458.30 359.78,454.82 360.50,450.00 C361.22,445.18 361.22,444.23 362.80,441.10 C364.38,437.97 368.03,433.75 370.00,431.20 C371.97,428.65 372.93,427.35 374.60,425.80 C376.27,424.25 378.33,422.93 380.00,421.90 C381.67,420.87 382.68,421.48 384.60,419.60 C386.52,417.72 389.45,412.77 391.50,410.60 C393.55,408.43 394.97,407.82 396.90,406.60 C398.83,405.38 400.92,404.43 403.10,403.30 C405.28,402.17 406.35,401.22 410.00,399.80 C413.65,398.38 419.93,396.17 425.00,394.80 C430.07,393.43 435.27,392.65 440.40,391.60 C445.53,390.55 450.67,389.53 455.80,388.50 C460.93,387.47 466.08,386.53 471.20,385.40 C476.32,384.27 481.73,382.83 486.50,381.70 C491.27,380.57 497.58,379.12 499.80,378.60" fill="none" stroke="#d2d2d2" stroke-width="1.2" stroke-linejoin="round" stroke-linecap="round"/>
<path d="M357.30,520.20 C357.47,517.67 357.92,509.30 358.30,505.00 C358.68,500.70 359.10,497.35 359.60,494.40 C360.10,491.45 360.78,490.25 361.30,487.30 C361.82,484.35 362.33,479.28 362.70,476.70 C363.07,474.12 363.18,474.02 363.50,471.80 C363.82,469.58 364.22,465.83 364.60,463.40 C364.98,460.97 365.42,459.13 365.80,457.20 C366.18,455.27 366.20,453.72 366.90,451.80 C367.60,449.88 368.85,448.00 370.00,445.70 C371.15,443.40 372.77,439.78 373.80,438.00 C374.83,436.22 375.17,436.65 376.20,435.00 C377.23,433.35 378.95,430.10 380.00,428.10 C381.05,426.10 381.67,424.52 382.50,423.00 C383.33,421.48 384.30,420.25 385.00,419.00 C385.70,417.75 385.62,416.83 386.70,415.50 C387.78,414.17 389.87,412.37 391.50,411.00 C393.13,409.63 394.88,408.33 396.50,407.30 C398.12,406.27 399.78,405.62 401.20,404.80 C402.62,403.98 403.53,403.20 405.00,402.40 C406.47,401.60 406.67,401.22 410.00,400.00 C413.33,398.78 419.93,396.43 425.00,395.10 C430.07,393.77 435.27,393.03 440.40,392.00 C445.53,390.97 450.67,389.93 455.80,388.90 C460.93,387.87 466.08,386.95 471.20,385.80 C476.32,384.65 481.73,383.20 486.50,382.00 C491.27,380.80 497.58,379.17 499.80,378.60" fill="none" stroke="#2a84dc" stroke-width="1.5" stroke-linejoin="round" stroke-linecap="round"/>
<path d="M357.30,520.20 C357.47,516.83 357.97,505.87 358.30,500.00 C358.63,494.13 358.85,489.33 359.30,485.00 C359.75,480.67 360.38,476.92 361.00,474.00 C361.62,471.08 362.13,469.27 363.00,467.50 C363.87,465.73 364.78,464.85 366.20,463.40 C367.62,461.95 369.72,460.22 371.50,458.80 C373.28,457.38 374.97,456.45 376.90,454.90 C378.83,453.35 381.05,451.28 383.10,449.50 C385.15,447.72 387.28,445.87 389.20,444.20 C391.12,442.53 391.07,442.95 394.60,439.50 C398.13,436.05 405.20,427.83 410.40,423.50 C415.60,419.17 421.32,416.18 425.80,413.50 C430.28,410.82 433.58,409.83 437.30,407.40 C441.02,404.97 445.02,401.22 448.10,398.90 C451.18,396.58 452.47,395.42 455.80,393.50 C459.13,391.58 463.48,389.45 468.10,387.40 C472.72,385.35 478.22,382.67 483.50,381.20 C488.78,379.73 497.08,379.03 499.80,378.60" fill="none" stroke="#f6c98e" stroke-width="1.2" stroke-linejoin="round" stroke-linecap="round"/>
<path d="M357.30,520.20 C357.40,516.00 357.72,503.37 357.90,495.00 C358.08,486.63 358.22,476.67 358.40,470.00 C358.58,463.33 358.65,459.00 359.00,455.00 C359.35,451.00 359.92,448.33 360.50,446.00 C361.08,443.67 361.65,443.23 362.50,441.00 C363.35,438.77 364.68,434.68 365.60,432.60 C366.52,430.52 367.05,429.93 368.00,428.50 C368.95,427.07 369.93,426.03 371.30,424.00 C372.67,421.97 374.75,418.55 376.20,416.30 C377.65,414.05 378.73,412.10 380.00,410.50 C381.27,408.90 382.20,407.82 383.80,406.70 C385.40,405.58 387.67,404.92 389.60,403.80 C391.53,402.68 393.47,401.20 395.40,400.00 C397.33,398.80 399.60,397.57 401.20,396.60 C402.80,395.63 402.70,395.38 405.00,394.20 C407.30,393.02 411.67,390.90 415.00,389.50 C418.33,388.10 420.77,387.18 425.00,385.80 C429.23,384.42 435.27,382.27 440.40,381.20 C445.53,380.13 445.90,379.83 455.80,379.40 C465.70,378.97 492.47,378.73 499.80,378.60" fill="none" stroke="#ecd23a" stroke-width="1.2" stroke-linejoin="round" stroke-linecap="round"/>
<path d="M357.30,520.20 C357.40,518.00 357.67,510.87 357.90,507.00 C358.13,503.13 358.35,499.50 358.70,497.00 C359.05,494.50 359.45,493.38 360.00,492.00 C360.55,490.62 360.87,490.22 362.00,488.70 C363.13,487.18 365.20,484.98 366.80,482.90 C368.40,480.82 370.00,478.28 371.60,476.20 C373.20,474.12 375.28,471.93 376.40,470.40 C377.52,468.87 377.50,468.28 378.30,467.00 C379.10,465.72 379.92,464.70 381.20,462.70 C382.48,460.70 384.15,457.83 386.00,455.00 C387.85,452.17 390.35,448.53 392.30,445.70 C394.25,442.87 396.22,440.17 397.70,438.00 C399.18,435.83 399.60,434.35 401.20,432.70 C402.80,431.05 405.25,430.15 407.30,428.10 C409.35,426.05 410.93,423.22 413.50,420.40 C416.07,417.58 419.88,413.77 422.70,411.20 C425.52,408.63 428.48,406.67 430.40,405.00 C432.32,403.33 432.02,402.85 434.20,401.20 C436.38,399.55 439.90,397.02 443.50,395.10 C447.10,393.18 451.70,391.25 455.80,389.70 C459.90,388.15 464.27,386.95 468.10,385.80 C471.93,384.65 473.52,384.00 478.80,382.80 C484.08,381.60 496.30,379.30 499.80,378.60" fill="none" stroke="#1cc43c" stroke-width="1.6" stroke-linejoin="round" stroke-linecap="round"/>
<path d="M357.60,520.00 C357.67,518.00 357.83,512.00 358.00,508.00 C358.17,504.00 358.50,498.00 358.60,496.00" fill="none" stroke="#8a4fb0" stroke-width="1.6" stroke-linejoin="round" stroke-linecap="round"/>
<path d="M359.40,446.00 C359.35,450.00 359.22,463.00 359.10,470.00 C358.98,477.00 358.77,485.00 358.70,488.00" fill="none" stroke="#f2a43a" stroke-width="1.3" stroke-linejoin="round" stroke-linecap="round"/>
<path d="M147.00,496.00 L147.10,462.00" fill="none" stroke="#f2b4cc" stroke-width="1.1" stroke-linejoin="round" stroke-linecap="round"/>
<path d="M146.40,520.20 C146.55,518.25 146.87,512.65 147.30,508.50 C147.73,504.35 148.45,499.15 149.00,495.30 C149.55,491.45 149.97,488.90 150.60,485.40 C151.23,481.90 152.07,478.53 152.80,474.30 C153.53,470.07 154.25,463.95 155.00,460.00 C155.75,456.05 156.43,455.27 157.30,450.60 C158.17,445.93 159.33,437.40 160.20,432.00 C161.07,426.60 161.87,421.78 162.50,418.20 C163.13,414.62 163.50,413.28 164.00,410.50 C164.50,407.72 164.98,403.78 165.50,401.50 C166.02,399.22 166.45,398.12 167.10,396.80 C167.75,395.48 168.12,394.63 169.40,393.60 C170.68,392.57 172.62,391.50 174.80,390.60 C176.98,389.70 179.93,388.83 182.50,388.20 C185.07,387.57 187.28,387.17 190.20,386.80 C193.12,386.43 195.42,386.50 200.00,386.00 C204.58,385.50 211.80,384.60 217.70,383.80 C223.60,383.00 229.50,381.93 235.40,381.20 C241.30,380.47 246.62,379.85 253.10,379.40 C259.58,378.95 268.25,378.67 274.30,378.50 C280.35,378.33 286.88,378.42 289.40,378.40" fill="none" stroke="#111" stroke-width="1.3" stroke-linejoin="round" stroke-linecap="round"/>
<path d="M200.00,379.30 C204.00,379.23 209.10,379.05 224.00,378.90 C238.90,378.75 278.50,378.48 289.40,378.40" fill="none" stroke="#c0141e" stroke-width="1.2" stroke-linejoin="round" stroke-linecap="round" opacity="0.6"/>
<rect x="0.5" y="0.5" width="519" height="561" fill="none" stroke="#333" stroke-width="1"/>
</svg></body></html>
